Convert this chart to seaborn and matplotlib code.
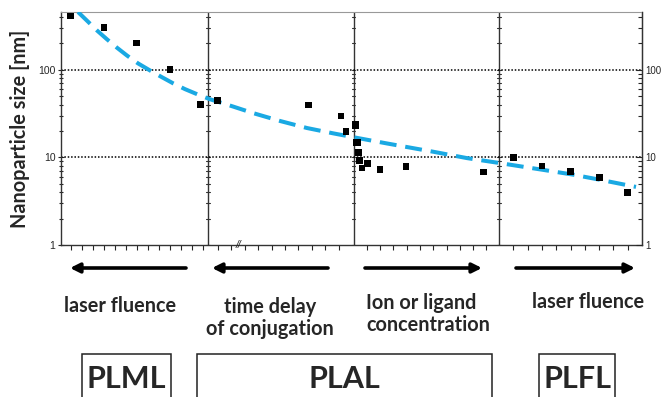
import numpy as np
import matplotlib
matplotlib.use("Agg")
import matplotlib.pyplot as plt
import seaborn as sns
import pandas as pd
from matplotlib.patches import Rectangle

# x = position along the (unlabelled) horizontal axis, y = nanoparticle size [nm]
plml_x = [9.7, 43, 75.7, 109, 139.3]
plml_y = [410, 305, 202, 100, 40.3]
delay_x = [156.7, 247.3, 280, 285, 294.3, 294.7]
delay_y = [44.3, 39.6, 29.6, 19.6, 24.0, 23.0]
ion_x = [295, 296.5, 297.7, 298.7, 301, 306.3, 319, 345, 422.3]
ion_y = [14.7, 14.7, 11.3, 9.16, 7.56, 8.55, 7.31, 7.82, 6.81]
plfl_x = [452.3, 481, 509.7, 538.3, 566.7]
plfl_y = [10.0, 7.97, 6.86, 5.92, 3.95]

# dashed trend line
fit_x = [17, 27, 36, 46, 56, 66, 77, 91, 101, 112, 124, 137, 149, 172, 192,
         219, 246, 272, 292, 326, 356, 372, 406, 436, 482, 512, 539, 575]
fit_y = [455, 353, 280, 222, 178, 145, 118, 95, 82, 70, 60, 52, 46, 38, 32,
         26, 21.6, 18.8, 17.0, 14.4, 12.5, 11.6, 9.8, 8.7, 7.2, 6.35, 5.55, 4.6]

separators = [147, 292.5, 438]
ytick_vals = [1, 10, 100]
ytick_labels = ["1", "10", "100"]

arrow_labels = ["laser fluence", "time delay\nof conjugation",
                "Ion or ligand\nconcentration", "laser fluence"]
method_labels = ["PLML", "PLAL", "PLFL"]

sns.set_style("ticks")
plt.rcParams["font.family"] = ["Lato", "DejaVu Sans"]

W, H = 664, 397
fig = plt.figure(figsize=(W / 100, H / 100), dpi=100)


def fx(px):
    return px / W


def fy(py):
    return 1 - py / H


ax = fig.add_axes([fx(61), fy(245), fx(642) - fx(61), fy(12) - fy(245)])

pts = pd.DataFrame({
    "x": plml_x + delay_x + ion_x + plfl_x,
    "y": plml_y + delay_y + ion_y + plfl_y,
})
fit = pd.DataFrame({"x": fit_x, "y": fit_y})

sns.lineplot(data=fit, x="x", y="y", ax=ax, color="#1aa9e3", lw=2.9,
             sort=False, zorder=3)
ax.lines[-1].set_dashes([4.2, 2.2])
sns.scatterplot(data=pts, x="x", y="y", ax=ax, marker="s", color="black",
                s=24, edgecolor="none", zorder=4)

ax.set_yscale("log")
ax.set_ylim(1, 455)
ax.set_xlim(0, 581)

for v in [10, 100]:
    ax.axhline(v, color="black", lw=1.1, ls=(0, (1, 1.2)), zorder=2)
for s in separators:
    ax.axvline(s, color="#333333", lw=1.0, zorder=1)
    # small log ticks on the separators
    for dec in [1, 10, 100]:
        for m in range(1, 10):
            v = dec * m
            if v > 455:
                continue
            ax.plot([s - 1.8, s + 1.8], [v, v], color="#333333", lw=0.8,
                    zorder=1)

ax.set_yticks(ytick_vals)
ax.set_yticklabels(ytick_labels, family="Liberation Sans", fontsize=7.5)
ax.tick_params(axis="y", which="both", direction="inout", length=4,
               width=0.8, pad=2)
ax.tick_params(axis="y", which="minor", length=3)

# bottom ticks, one set per segment
xt = np.concatenate([np.arange(10, 145, 11), np.arange(157, 290, 13.4),
                     np.arange(305.7, 435, 13.3), np.arange(452.3, 575, 14.3)])
ax.set_xticks(xt)
ax.set_xticklabels([])
ax.tick_params(axis="x", direction="out", length=3.5, width=0.8)
ax.set_xlabel("")
ax.text(177, 1, "//", ha="center", va="center", fontsize=7.5,
        family="Liberation Sans", style="italic", clip_on=False)

ax.set_ylabel("Nanoparticle size [nm]", fontsize=14.3, fontweight="bold",
              labelpad=6)

for side in ["left", "bottom", "right"]:
    ax.spines[side].set_color("#333333")
    ax.spines[side].set_linewidth(1.0)
ax.spines["top"].set_color("#999999")

ax2 = ax.twinx()
ax2.set_yscale("log")
ax2.set_ylim(ax.get_ylim())
ax2.set_yticks(ytick_vals)
ax2.set_yticklabels(ytick_labels, family="Liberation Sans", fontsize=7)
ax2.tick_params(axis="y", which="both", direction="in", length=4, width=0.8,
                pad=2.5)
ax2.tick_params(axis="y", which="minor", length=3)
for side in ["left", "top", "bottom"]:
    ax2.spines[side].set_visible(False)
ax2.spines["right"].set_color("#333333")

# arrows under the axis
arrows = [(186, 70), (328, 212), (365, 482), (516, 635)]
for tail, head in arrows:
    ax.annotate("", xy=(fx(head), fy(268)), xytext=(fx(tail), fy(268)),
                xycoords="figure fraction", textcoords="figure fraction",
                arrowprops=dict(arrowstyle="-|>", lw=2.6, color="black",
                                mutation_scale=14, shrinkA=0, shrinkB=0),
                annotation_clip=False)

fig.text(fx(120), fy(306), arrow_labels[0], ha="center", va="center",
         fontsize=14.3, fontweight="bold")
fig.text(fx(270), fy(318), arrow_labels[1], ha="center", va="center",
         fontsize=14.3, fontweight="bold", linespacing=1.15)
fig.text(fx(366), fy(314), arrow_labels[2], ha="left", va="center",
         fontsize=14.3, fontweight="bold", linespacing=1.15)
fig.text(fx(588), fy(302), arrow_labels[3], ha="center", va="center",
         fontsize=14.3, fontweight="bold")

boxes = [(82, 171), (197, 492), (539, 615)]
for (x0, x1), lab in zip(boxes, method_labels):
    fig.patches.append(Rectangle((fx(x0), fy(420)), fx(x1) - fx(x0),
                                 fy(354) - fy(420), transform=fig.transFigure,
                                 fill=False, edgecolor="#222222", lw=1.1))
    fig.text(fx((x0 + x1) / 2), fy(379), lab, ha="center", va="center",
             fontsize=22, fontweight="bold")

fig.savefig("out.png", dpi=100)
